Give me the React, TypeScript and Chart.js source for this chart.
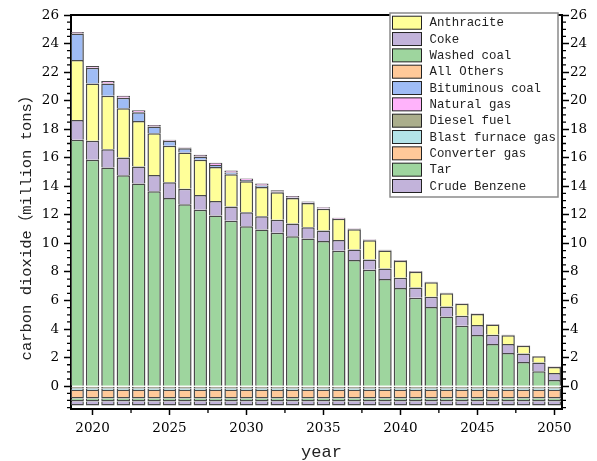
import React, { useEffect, useRef } from 'react';
import { Chart, registerables } from 'chart.js';

Chart.register(...registerables);

const years = [2019, 2020, 2021, 2022, 2023, 2024, 2025, 2026, 2027, 2028, 2029, 2030, 2031, 2032, 2033, 2034, 2035, 2036, 2037, 2038, 2039, 2040, 2041, 2042, 2043, 2044, 2045, 2046, 2047, 2048, 2049, 2050];

const washedCoal = [17.26, 15.86, 15.32, 14.77, 14.2, 13.65, 13.18, 12.75, 12.35, 11.95, 11.58, 11.21, 10.98, 10.74, 10.51, 10.35, 10.16, 9.49, 8.83, 8.15, 7.51, 6.88, 6.19, 5.55, 4.88, 4.23, 3.58, 2.95, 2.32, 1.7, 1.04, 0.44];
const coke = [1.39, 1.33, 1.28, 1.25, 1.19, 1.15, 1.1, 1.07, 1.04, 1.02, 1.0, 0.97, 0.93, 0.91, 0.89, 0.79, 0.75, 0.74, 0.74, 0.73, 0.73, 0.72, 0.72, 0.72, 0.7, 0.7, 0.7, 0.65, 0.64, 0.59, 0.61, 0.49];
const anthracite = [4.19, 4.02, 3.75, 3.44, 3.19, 2.92, 2.56, 2.55, 2.47, 2.38, 2.27, 2.17, 2.04, 1.93, 1.78, 1.69, 1.52, 1.49, 1.42, 1.34, 1.26, 1.18, 1.1, 1.01, 0.93, 0.84, 0.78, 0.72, 0.61, 0.54, 0.45, 0.42];
const bituminousCoal = [1.86, 1.09, 0.86, 0.75, 0.6, 0.47, 0.35, 0.3, 0.22, 0.15, 0.12, 0.09, 0.1, 0.05, 0.04, 0.03, 0.02, 0, 0, 0, 0, 0, 0, 0, 0, 0, 0, 0, 0, 0, 0, 0];
const naturalGas = [0.11, 0.13, 0.16, 0.14, 0.14, 0.11, 0.07, 0.05, 0.13, 0.15, 0.14, 0.1, 0.14, 0.09, 0.1, 0.07, 0.08, 0.07, 0.06, 0.06, 0.05, 0.05, 0.05, 0.04, 0.04, 0.04, 0.03, 0.03, 0.03, 0.03, 0.02, 0.02];
const allOthers = [0, 0, 0, 0, 0, 0, 0, 0, 0, 0, 0, 0, 0, 0, 0, 0, 0, 0, 0, 0, 0, 0, 0, 0, 0, 0, 0, 0, 0, 0, 0, 0];
const dieselFuel = [-0.17, -0.17, -0.17, -0.17, -0.17, -0.17, -0.17, -0.17, -0.17, -0.17, -0.17, -0.17, -0.17, -0.17, -0.17, -0.17, -0.17, -0.17, -0.17, -0.17, -0.17, -0.17, -0.17, -0.17, -0.17, -0.17, -0.17, -0.17, -0.17, -0.17, -0.17, -0.17];
const blastFurnaceGas = [-0.17, -0.17, -0.17, -0.17, -0.17, -0.17, -0.17, -0.17, -0.17, -0.17, -0.17, -0.17, -0.17, -0.17, -0.17, -0.17, -0.17, -0.17, -0.17, -0.17, -0.17, -0.17, -0.17, -0.17, -0.17, -0.17, -0.17, -0.17, -0.17, -0.17, -0.17, -0.17];
const converterGas = [-0.52, -0.52, -0.52, -0.52, -0.52, -0.52, -0.52, -0.52, -0.52, -0.52, -0.52, -0.52, -0.52, -0.52, -0.52, -0.52, -0.52, -0.52, -0.52, -0.52, -0.52, -0.52, -0.52, -0.52, -0.52, -0.52, -0.52, -0.52, -0.52, -0.52, -0.52, -0.52];
const tar = [-0.21, -0.21, -0.21, -0.21, -0.21, -0.21, -0.21, -0.21, -0.21, -0.21, -0.21, -0.21, -0.21, -0.21, -0.21, -0.21, -0.21, -0.21, -0.21, -0.21, -0.21, -0.21, -0.21, -0.21, -0.21, -0.21, -0.21, -0.21, -0.21, -0.21, -0.21, -0.21];
const crudeBenzene = [-0.29, -0.29, -0.29, -0.29, -0.29, -0.29, -0.29, -0.29, -0.29, -0.29, -0.29, -0.29, -0.29, -0.29, -0.29, -0.29, -0.29, -0.29, -0.29, -0.29, -0.29, -0.29, -0.29, -0.29, -0.29, -0.29, -0.29, -0.29, -0.29, -0.29, -0.29, -0.29];

const xTicks = [2020, 2025, 2030, 2035, 2040, 2045, 2050];
const yTicks = [0, 2, 4, 6, 8, 10, 12, 14, 16, 18, 20, 22, 24, 26];

const legendOrder = ['Anthracite', 'Coke', 'Washed coal', 'All Others', 'Bituminous coal', 'Natural gas', 'Diesel fuel', 'Blast furnace gas', 'Converter gas', 'Tar', 'Crude Benzene'];

const yTitle = 'carbon dioxide（million tons）';
const xTitle = 'year';

const COLORS: Record<string, string> = {
  'Anthracite': '#ffff99',
  'Coke': '#c2b3da',
  'Washed coal': '#9ed59e',
  'All Others': '#ffc999',
  'Bituminous coal': '#9fbcf5',
  'Natural gas': '#ffb3fb',
  'Diesel fuel': '#abae8c',
  'Blast furnace gas': '#b3e3e8',
  'Converter gas': '#ffc999',
  'Tar': '#9ed59e',
  'Crude Benzene': '#c2b3da',
};

const SERIF = '"DejaVu Serif", "Liberation Serif", serif';
const MONO = '"Liberation Mono", "Noto Sans CJK SC", monospace';

const frameAndMinor = {
  id: 'frameAndMinor',
  afterDraw(chart: any) {
    const { ctx, chartArea } = chart;
    const { left, right, top, bottom } = chartArea;
    const ys = chart.scales.y;
    const xs = chart.scales.x;
    ctx.save();
    ctx.strokeStyle = '#000';
    ctx.lineWidth = 1.3;
    ctx.beginPath();
    for (let v = -1.5; v <= 26; v += 0.5) {
      if (Math.abs(v % 2) < 1e-9) continue;
      const py = ys.getPixelForValue(v);
      ctx.moveTo(left - 4, py);
      ctx.lineTo(left, py);
      ctx.moveTo(right, py);
      ctx.lineTo(right + 4, py);
    }
    for (let v = 2017.5; v <= 2051; v += 5) {
      const px = xs.getPixelForValue(v);
      if (px < left - 0.5 || px > right + 0.5) continue;
      ctx.moveTo(px, bottom);
      ctx.lineTo(px, bottom + 4);
    }
    ctx.stroke();
    ctx.lineWidth = 2;
    ctx.beginPath();
    ctx.moveTo(left - 1, top);
    ctx.lineTo(right + 1, top);
    ctx.stroke();

    // axis titles
    ctx.fillStyle = '#222';
    ctx.textAlign = 'center';
    ctx.textBaseline = 'middle';
    ctx.font = '15.5px ' + MONO;
    ctx.save();
    ctx.translate(left - 44, (top + bottom) / 2 + 12);
    ctx.rotate(-Math.PI / 2);
    ctx.fillText(yTitle, 0, 0);
    ctx.restore();
    ctx.font = '17px ' + MONO;
    ctx.fillText(xTitle, (left + right) / 2 + 5, bottom + 43);

    // legend
    const bx = right - 172;
    const by = top - 2;
    const bw = 168;
    const bh = 184;
    ctx.fillStyle = '#fff';
    ctx.fillRect(bx, by, bw, bh);
    ctx.strokeStyle = '#8a8a8a';
    ctx.lineWidth = 1.5;
    ctx.strokeRect(bx, by, bw, bh);
    ctx.font = '12.4px ' + MONO;
    ctx.textBaseline = 'middle';
    ctx.textAlign = 'left';
    legendOrder.forEach((name, i) => {
      const cy = by + 9.7 + i * 16.33;
      ctx.fillStyle = COLORS[name];
      ctx.fillRect(bx + 2.5, cy - 6.5, 29, 13);
      ctx.strokeStyle = '#222';
      ctx.lineWidth = 1;
      ctx.strokeRect(bx + 2.5, cy - 6.5, 29, 13);
      ctx.fillStyle = '#222';
      ctx.fillText(name, bx + 39.5, cy + 0.5);
    });
    ctx.restore();
  },
};

export default function App() {
  const ref = useRef<HTMLCanvasElement>(null);
  useEffect(() => {
    const mk = (label: string, data: number[]) => ({
      label,
      data: data.map((v) => (v === 0 ? null : v)),
      backgroundColor: COLORS[label],
      borderColor: '#4a4a4a',
      borderWidth: 1.5,
      borderSkipped: 'start' as const,
      inflateAmount: 0,
      barPercentage: 0.87,
      categoryPercentage: 1,
      stack: 's',
    });
    const chart = new Chart(ref.current as HTMLCanvasElement, {
      type: 'bar',
      data: {
        labels: years,
        datasets: [
          mk('Washed coal', washedCoal),
          mk('Coke', coke),
          mk('Anthracite', anthracite),
          mk('Bituminous coal', bituminousCoal),
          mk('Natural gas', naturalGas),
          mk('All Others', allOthers),
          mk('Diesel fuel', dieselFuel),
          mk('Blast furnace gas', blastFurnaceGas),
          mk('Converter gas', converterGas),
          mk('Tar', tar),
          mk('Crude Benzene', crudeBenzene),
        ],
      },
      options: {
        responsive: false,
        animation: false,
        devicePixelRatio: 1,
        layout: { padding: { top: 15, left: 0, right: 0, bottom: 0 } },
        plugins: { legend: { display: false }, tooltip: { enabled: false } },
        scales: {
          x: {
            type: 'linear',
            min: 2018.6,
            max: 2050.5,
            offset: false,
            stacked: true,
            afterFit: (s: any) => { s.height = 52; },
            afterBuildTicks: (s: any) => { s.ticks = xTicks.map((value) => ({ value })); },
            grid: { display: true, drawOnChartArea: false, drawTicks: true, tickLength: 6, tickWidth: 1.5, tickColor: '#000', offset: false },
            border: { display: true, color: '#000', width: 2 },
            ticks: { color: '#000', padding: 5, maxRotation: 0, autoSkip: false, font: { family: SERIF, size: 13.5 }, callback: (v: any) => String(v) },
          },
          y: {
            type: 'linear',
            position: 'left',
            min: -1.6,
            max: 26,
            stacked: true,
            afterFit: (s: any) => { s.width = 71; },
            afterBuildTicks: (s: any) => { s.ticks = yTicks.map((value) => ({ value })); },
            grid: { display: true, drawOnChartArea: false, drawTicks: true, tickLength: 7, tickWidth: 1.5, tickColor: '#000' },
            border: { display: true, color: '#000', width: 2 },
            ticks: { color: '#000', padding: 5, font: { family: SERIF, size: 13.5 }, callback: (v: any) => String(v) },
          },
          y1: {
            type: 'linear',
            position: 'right',
            min: -1.6,
            max: 26,
            afterFit: (s: any) => { s.width = 35; },
            afterBuildTicks: (s: any) => { s.ticks = yTicks.map((value) => ({ value })); },
            grid: { display: true, drawOnChartArea: false, drawTicks: true, tickLength: 7, tickWidth: 1.5, tickColor: '#000' },
            border: { display: true, color: '#000', width: 2 },
            ticks: { color: '#000', padding: 1, font: { family: SERIF, size: 13.5 }, callback: (v: any) => String(v) },
          },
        },
      },
      plugins: [frameAndMinor],
    } as any);
    return () => chart.destroy();
  }, []);
  return (
    <div style={{ position: 'absolute', left: 0, top: 0, width: 597, height: 461, background: '#fff' }}>
      <canvas ref={ref} width={597} height={461} style={{ display: 'block' }} />
    </div>
  );
}
